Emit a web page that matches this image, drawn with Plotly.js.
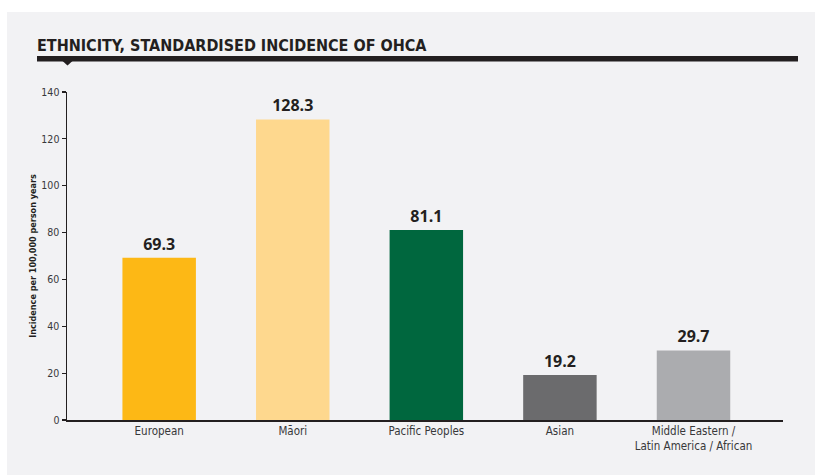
<!DOCTYPE html>
<html>
<head>
<meta charset="utf-8">
<script src="https://cdn.plot.ly/plotly-3.0.1.min.js"></script>
<style>html,body{margin:0;padding:0;background:#fff;}#chart{width:815px;height:475px;}</style>
</head>
<body>
<div id="chart"></div>
<script>
const categories = ["European", "Māori", "Pacific Peoples", "Asian", "Middle Eastern /<br>Latin America / African"];
const incidence = [69.3, 128.3, 81.1, 19.2, 29.7];
const barColors = ["#FDB815", "#FED88E", "#00673E", "#6B6B6D", "#ABACAF"];
const yTickValues = [0, 20, 40, 60, 80, 100, 120, 140];
const chartTitle = "ETHNICITY, STANDARDISED INCIDENCE OF OHCA";
const yTitle = "Incidence per 100,000 person years";

const W = 815, H = 475;
const M = {l: 67, r: 32, t: 92, b: 55};
const pw = W - M.l - M.r, ph = H - M.t - M.b;
const px = x => (x - M.l) / pw;
const py = y => (H - M.b - y) / ph;

const narrow = "'DejaVu Sans Condensed', 'Liberation Sans Narrow', Arial, sans-serif";
const ink = "#231f20";
const labelInk = "#38383a";

const boundaries = categories.slice(1).map((_, i) => i + 0.5);
const xr = [-0.69, 4.67];

const trace = {
  type: "bar",
  x: categories,
  y: incidence,
  marker: {color: barColors, line: {width: 0}},
  width: 0.55,
  text: incidence.map(v => v.toFixed(1)),
  textposition: "outside",
  textfont: {family: "'Open Sans', Arial, sans-serif", size: 16, weight: 700, color: ink},
  cliponaxis: false,
  hoverinfo: "skip"
};

const layout = {
  width: W, height: H,
  margin: M,
  paper_bgcolor: "#ffffff",
  plot_bgcolor: "rgba(0,0,0,0)",
  showlegend: false,
  title: {
    text: chartTitle,
    font: {family: narrow, size: 16, weight: 700, color: ink},
    xref: "container", x: 37 / W, xanchor: "left",
    yref: "container", y: 1 - 45 / H, yanchor: "middle"
  },
  xaxis: {
    type: "category",
    range: xr,
    showline: true, linecolor: ink, linewidth: 1.5,
    ticks: "",
    showgrid: false, zeroline: false,
    tickfont: {family: narrow, size: 11.5, color: labelInk},
    fixedrange: true
  },
  xaxis2: {
    overlaying: "x", anchor: "y", side: "bottom",
    range: xr,
    tickmode: "array", tickvals: boundaries,
    ticks: "outside", ticklen: 4, tickwidth: 1.2, tickcolor: ink,
    showticklabels: false, showline: false, showgrid: false, zeroline: false,
    fixedrange: true
  },
  yaxis: {
    range: [0, 140],
    tickmode: "array", tickvals: yTickValues,
    ticks: "outside", ticklen: 4, tickwidth: 1.2, tickcolor: ink,
    showline: true, linecolor: ink, linewidth: 1.5,
    showgrid: false, zeroline: false,
    tickfont: {family: narrow, size: 10.5, color: labelInk},
    title: {text: yTitle, font: {family: narrow, size: 9, weight: 700, color: ink}, standoff: 3},
    fixedrange: true
  },
  shapes: [
    {type: "rect", xref: "paper", yref: "paper", layer: "below",
     x0: px(7), x1: px(820), y0: py(480), y1: py(12),
     fillcolor: "#f2f2f4", line: {width: 0}},
    {type: "rect", xref: "paper", yref: "paper", layer: "above",
     x0: px(37), x1: px(798), y0: py(61.5), y1: py(56),
     fillcolor: ink, line: {width: 0}},
    {type: "path", xref: "paper", yref: "paper", layer: "above",
     path: `M ${px(62.5)},${py(61)} L ${px(72.5)},${py(61)} L ${px(67.5)},${py(65.5)} Z`,
     fillcolor: ink, line: {width: 0}}
  ]
};

Plotly.newPlot("chart", [trace], layout, {staticPlot: true, displayModeBar: false});
</script>
</body>
</html>
